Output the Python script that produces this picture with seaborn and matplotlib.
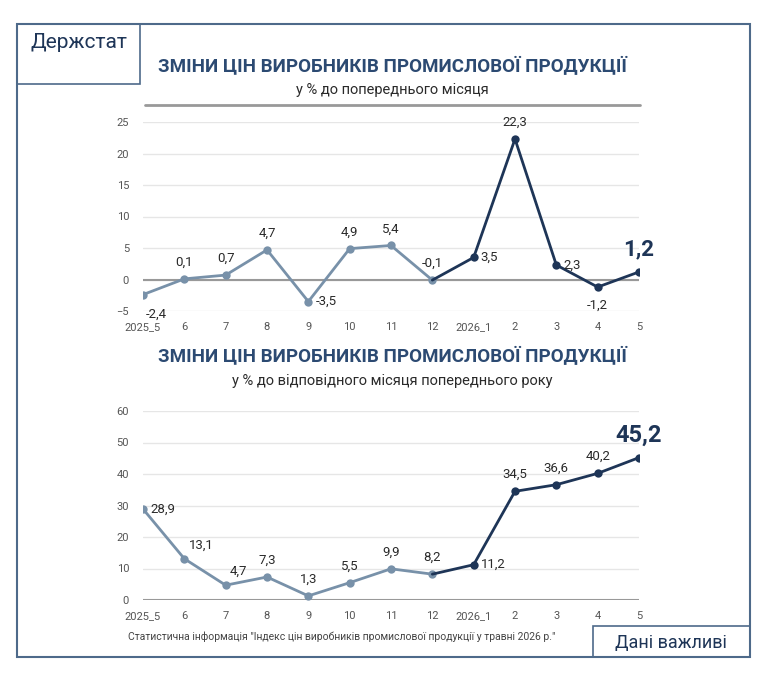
import matplotlib
matplotlib.use("Agg")
import matplotlib.pyplot as plt
import seaborn as sns
import pandas as pd
from matplotlib.patches import Rectangle
from matplotlib.lines import Line2D

labels = ["2025_5","6","7","8","9","10","11","12","2026_1","2","3","4","5"]
mom = [-2.4,0.1,0.7,4.7,-3.5,4.9,5.4,-0.1,3.5,22.3,2.3,-1.2,1.2]
yoy = [28.9,13.1,4.7,7.3,1.3,5.5,9.9,8.2,11.2,34.5,36.6,40.2,45.2]

LIGHT = "#7891a9"
DARK = "#1e3557"
TXT = "#2a2a2a"

sns.set_theme(style="white")
plt.rcParams['font.family'] = ['Roboto', 'DejaVu Sans']

fig = plt.figure(figsize=(7.64, 6.74), dpi=100)
W, H = 764, 674
def fx(x): return x / W
def fy(y): return 1 - y / H

fig.patches.append(Rectangle((fx(17), fy(657)), fx(750)-fx(17), fy(24)-fy(657),
                             transform=fig.transFigure, fill=False, ec="#4e6a8a", lw=1.5))
fig.patches.append(Rectangle((fx(17), fy(84)), fx(140)-fx(17), fy(24)-fy(84),
                             transform=fig.transFigure, fill=False, ec="#4e6a8a", lw=1.2))
fig.text(fx(79), fy(42), "Держстат", ha="center", va="center", fontsize=15, color=DARK)
fig.patches.append(Rectangle((fx(593), fy(657)), fx(750)-fx(593), fy(626)-fy(657),
                             transform=fig.transFigure, fill=False, ec="#4e6a8a", lw=1.2))
fig.text(fx(671), fy(643), "Дані важливі", ha="center", va="center", fontsize=13, color=DARK)
fig.text(fx(128), fy(637), 'Статистична інформація "Індекс цін виробників промислової продукції у травні 2026 р."',
         ha="left", va="center", fontsize=7.5, color="#444444")

fig.text(fx(392), fy(67), "ЗМІНИ ЦІН ВИРОБНИКІВ ПРОМИСЛОВОЇ ПРОДУКЦІЇ", ha="center", va="center",
         fontsize=13.5, fontweight="bold", color="#2c4a72")
fig.text(fx(392), fy(90), "у % до попереднього місяця", ha="center", va="center", fontsize=10.5, color=TXT)
fig.add_artist(Line2D([fx(145), fx(640)], [fy(105), fy(105)], transform=fig.transFigure, color="#999999", lw=2))
fig.text(fx(392), fy(357), "ЗМІНИ ЦІН ВИРОБНИКІВ ПРОМИСЛОВОЇ ПРОДУКЦІЇ", ha="center", va="center",
         fontsize=13.5, fontweight="bold", color="#2c4a72")
fig.text(fx(392), fy(381), "у % до відповідного місяця попереднього року", ha="center", va="center", fontsize=10.5, color=TXT)

def panel(rect, vals, ylim, yticks, offsets, big_fs):
    ax = fig.add_axes(rect)
    df = pd.DataFrame({"x": range(len(vals)), "y": vals})
    sns.lineplot(data=df.iloc[:8], x="x", y="y", ax=ax, color=LIGHT, lw=2, marker="o", markersize=6, markeredgewidth=0)
    sns.lineplot(data=df.iloc[7:], x="x", y="y", ax=ax, color=DARK, lw=2)
    sns.scatterplot(data=df.iloc[8:], x="x", y="y", ax=ax, color=DARK, s=36, linewidth=0, zorder=5)
    ax.set_xlim(0, 12)
    ax.set_ylim(*ylim)
    ax.set_yticks(yticks)
    ax.set_xticks(range(13))
    ax.set_xticklabels(labels)
    ax.tick_params(axis="both", labelsize=8, colors="#555555", length=0)
    ax.tick_params(axis="x", length=4, color="#888888", direction="in", pad=8)
    ax.tick_params(axis="y", pad=10)
    ax.set_xlabel(""); ax.set_ylabel("")
    for s in ax.spines.values(): s.set_visible(False)
    ax.grid(axis="y", color="#e6e6e6", lw=1)
    ax.axhline(0, color="#999999", lw=1.5, zorder=1)
    for i, v in enumerate(vals):
        dx, dy, ha = offsets[i]
        if i == len(vals) - 1:
            ax.annotate(f"{v}".replace(".", ","), (i, v), xytext=(0, 8), textcoords="offset points",
                        ha="center", va="bottom", fontsize=big_fs, fontweight="bold", color=DARK)
        else:
            ax.annotate(f"{v}".replace(".", ","), (i, v), xytext=(dx, dy), textcoords="offset points",
                        ha=ha, va="center", fontsize=9.5, color=TXT)
    return ax

up = (0, 12, "center"); dn = (0, -13, "center"); rt = (5, 0, "left")
off1 = [(2, -14, "left"), up, up, up, rt, up, up, up, rt, up, rt, dn, up]
panel([fx(143), fy(311), fx(639)-fx(143), fy(122)-fy(311)], mom, (-5, 25), [-5,0,5,10,15,20,25], off1, 16)
off2 = [rt, (3, 10, "left"), (3, 10, "left"), up, up, up, up, up, rt, up, up, up, up]
panel([fx(143), fy(600), fx(639)-fx(143), fy(411)-fy(600)], yoy, (0, 60), [0,10,20,30,40,50,60], off2, 17)

fig.savefig("out.png", dpi=100)
